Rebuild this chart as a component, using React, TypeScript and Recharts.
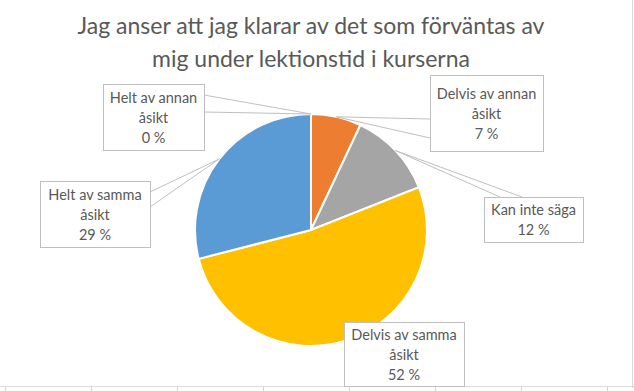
import { PieChart, Pie, Cell } from 'recharts';

const categories = [
  'Helt av annan åsikt',
  'Delvis av annan åsikt',
  'Kan inte säga',
  'Delvis av samma åsikt',
  'Helt av samma åsikt',
];
const shares = [0, 7, 12, 52, 29];
const COLORS = ['#4472C4', '#ED7D31', '#A5A5A5', '#FFC000', '#5B9BD5'];

const titleLines = [
  'Jag anser att jag klarar av det som förväntas av',
  'mig under lektionstid i kurserna',
];

const data = categories.map((name, i) => ({ name, value: shares[i] }));

// where Excel's callouts were dragged to, plus where the wedge meets the box
const boxes = [
  { x: 103, y: 84, w: 101, h: 66, side: 'right', a: 11, b: 28 },
  { x: 430, y: 75, w: 113, h: 76, side: 'left', a: 44, b: 63 },
  { x: 484, y: 197, w: 99, h: 45, side: 'top', a: 16, b: 38 },
  { x: 344, y: 322, w: 120, h: 64, side: '', a: 0, b: 0 },
  { x: 40, y: 181, w: 110, h: 66, side: 'right', a: 11, b: 26 },
];

const TEXT = '#595959';
const FONT = 'Lato, "Open Sans", sans-serif';
const RAD = Math.PI / 180;

function wrap(s: string, max = 15) {
  const out: string[] = [];
  let cur = '';
  s.split(' ').forEach((w) => {
    if (cur && (cur + ' ' + w).length > max) {
      out.push(cur);
      cur = w;
    } else cur = cur ? cur + ' ' + w : w;
  });
  if (cur) out.push(cur);
  return out;
}

function renderLabel(props: any) {
  const { cx, cy, midAngle, outerRadius, index, value, name } = props;
  const b = boxes[index];
  if (!b) return null;
  const ax = cx + outerRadius * Math.cos(-midAngle * RAD);
  const ay = cy + outerRadius * Math.sin(-midAngle * RAD);
  let p1: number[] = [];
  let p2: number[] = [];
  if (b.side === 'right') {
    p1 = [b.x + b.w, b.y + b.a];
    p2 = [b.x + b.w, b.y + b.b];
  } else if (b.side === 'left') {
    p1 = [b.x, b.y + b.a];
    p2 = [b.x, b.y + b.b];
  } else if (b.side === 'top') {
    p1 = [b.x + b.a, b.y];
    p2 = [b.x + b.b, b.y];
  }
  const lines = [...wrap(name), `${value} %`];
  const mid = b.y + b.h / 2;
  const first = mid - ((lines.length - 1) * 20) / 2;
  return (
    <g key={`lbl-${index}`}>
      {b.side && (
        <polyline
          points={`${p1[0]},${p1[1]} ${ax},${ay} ${p2[0]},${p2[1]}`}
          fill="none"
          stroke="#BFBFBF"
          strokeWidth={1}
        />
      )}
      <rect x={b.x + 0.5} y={b.y + 0.5} width={b.w} height={b.h} fill="#fff" stroke="#BFBFBF" />
      {lines.map((t, i) => (
        <text
          key={i}
          x={b.x + b.w / 2}
          y={first + i * 20}
          textAnchor="middle"
          dominantBaseline="central"
          fill={TEXT}
          fontSize={14.5}
          fontFamily={FONT}
        >
          {t}
        </text>
      ))}
    </g>
  );
}

export default function App() {
  return (
    <div style={{ position: 'relative', width: 634, height: 391, background: '#fff', overflow: 'hidden' }}>
      <style>{'body{margin:0}'}</style>
      <div
        style={{
          position: 'absolute',
          left: 0,
          top: 9,
          width: 622,
          textAlign: 'center',
          fontFamily: FONT,
          fontSize: 23,
          lineHeight: '33px',
          color: TEXT,
        }}
      >
        {titleLines.map((t) => (
          <div key={t}>{t}</div>
        ))}
      </div>
      {/* chart frame edges and the spreadsheet cells showing below it */}
      <div style={{ position: 'absolute', left: 632, top: 0, width: 1, height: 388, background: '#D9D9D9' }} />
      <div style={{ position: 'absolute', left: 0, top: 386, width: 634, height: 1, background: '#D9D9D9' }} />
      <div
        style={{
          position: 'absolute',
          left: 0,
          top: 387,
          width: 634,
          height: 4,
          background: 'repeating-linear-gradient(to right, transparent 0 5px, #D4D4D4 5px 6px, transparent 6px 86px)',
        }}
      />
      <div style={{ position: 'absolute', left: 0, top: 0 }}>
        <PieChart width={634} height={391} margin={{ top: 0, right: 0, bottom: 0, left: 0 }}>
          <Pie
            data={data}
            dataKey="value"
            nameKey="name"
            cx={311}
            cy={230}
            outerRadius={116}
            startAngle={90}
            endAngle={-270}
            stroke="#fff"
            strokeWidth={2}
            label={renderLabel}
            labelLine={false}
            isAnimationActive={false}
          >
            {data.map((d, i) => (
              <Cell key={d.name} fill={COLORS[i]} />
            ))}
          </Pie>
        </PieChart>
      </div>
    </div>
  );
}
